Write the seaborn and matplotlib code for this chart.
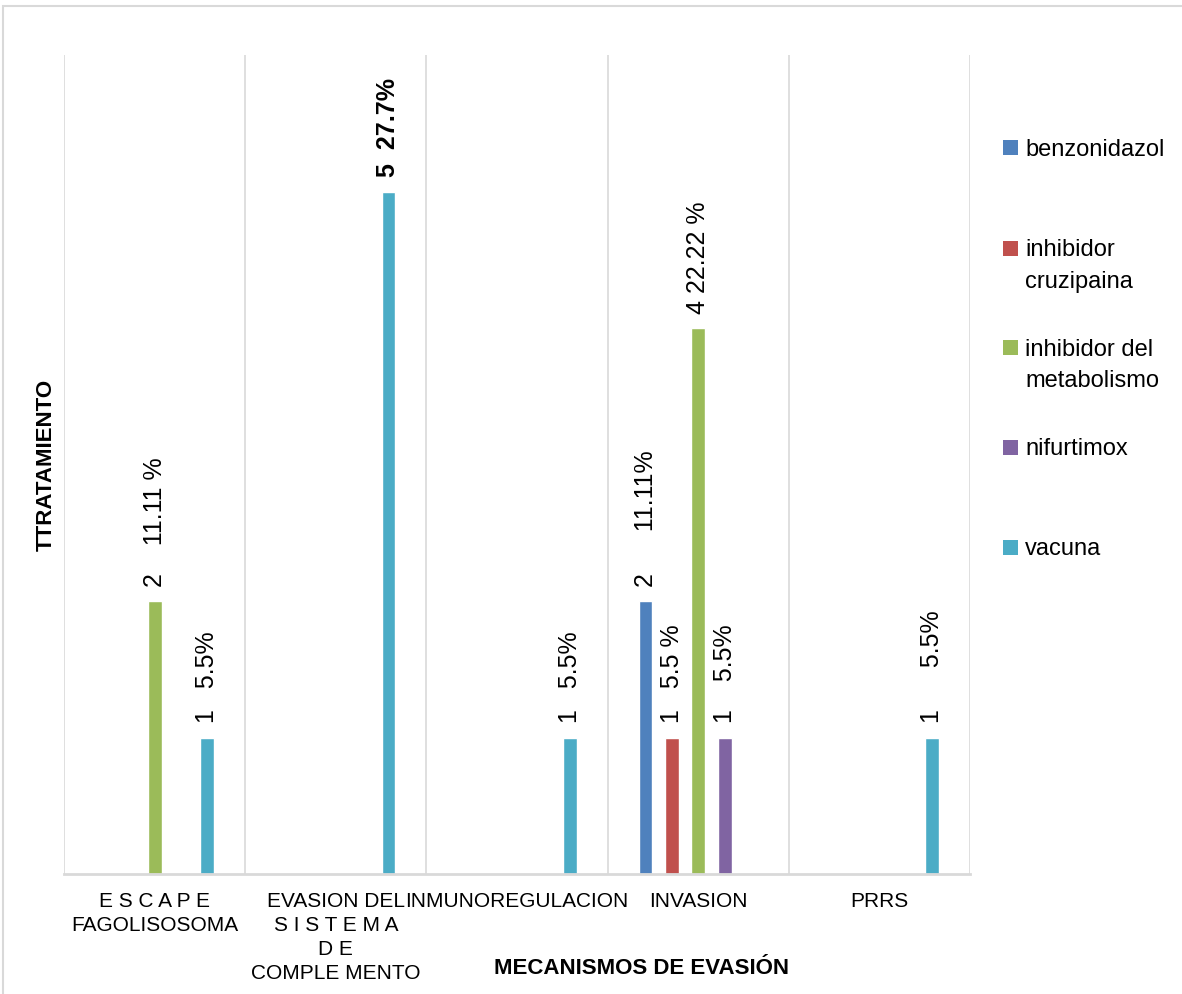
import matplotlib
matplotlib.use("Agg")
import matplotlib.pyplot as plt
from matplotlib.patches import Rectangle
import pandas as pd
import seaborn as sns

# --- data -------------------------------------------------------------
mecanismos = ["ESCAPE FAGOLISOSOMA", "EVASION DEL SISTEMA DE COMPLEMENTO",
              "INMUNOREGULACION", "INVASION", "PRRS"]
tick_labels = ["E S C A P E\nFAGOLISOSOMA",
               "EVASION DEL\nS I S T E M A\nD E\nCOMPLE MENTO",
               "INMUNOREGULACION", "INVASION", "PRRS"]
tratamientos = ["benzonidazol", "inhibidor cruzipaina", "inhibidor del metabolismo",
                "nifurtimox", "vacuna"]
legend_labels = ["benzonidazol", "inhibidor\ncruzipaina", "inhibidor del\nmetabolismo",
                 "nifurtimox", "vacuna"]

benzonidazol = [0, 0, 0, 2, 0]
inhibidor_cruzipaina = [0, 0, 0, 1, 0]
inhibidor_metabolismo = [2, 0, 0, 4, 0]
nifurtimox = [0, 0, 0, 1, 0]
vacuna = [1, 5, 1, 0, 1]

# percentage text shown next to each count
pct_benzonidazol = ["", "", "", "      11.11%", ""]
pct_inhibidor_cruzipaina = ["", "", "", "   5.5 %", ""]
pct_inhibidor_metabolismo = ["    11.11 %", "", "", " 22.22 %", ""]
pct_nifurtimox = ["", "", "", "    5.5%", ""]
pct_vacuna = ["   5.5%", "  27.7%", "   5.5%", "", "      5.5%"]

colores = ["#4F81BD", "#C0504D", "#9BBB59", "#8064A2", "#4BACC6"]

series = [benzonidazol, inhibidor_cruzipaina, inhibidor_metabolismo, nifurtimox, vacuna]
pcts = [pct_benzonidazol, pct_inhibidor_cruzipaina, pct_inhibidor_metabolismo,
        pct_nifurtimox, pct_vacuna]

rows = []
for trat, vals in zip(tratamientos, series):
    for mec, v in zip(mecanismos, vals):
        rows.append({"mecanismo": mec, "tratamiento": trat, "n": v})
df = pd.DataFrame(rows)

# --- figure -----------------------------------------------------------
sns.set_style("white")
plt.rcParams["font.family"] = ["Liberation Sans", "DejaVu Sans"]
plt.rcParams["text.color"] = "black"
plt.rcParams["axes.labelcolor"] = "black"
plt.rcParams["xtick.color"] = "black"

W, H = 1182, 995
fig = plt.figure(figsize=(W / 100, H / 100), dpi=100)
ax = fig.add_axes([64 / W, 1 - 875 / H, (970 - 64) / W, (875 - 56) / H])

sns.barplot(data=df, x="mecanismo", y="n", hue="tratamiento",
            order=mecanismos, hue_order=tratamientos, palette=colores,
            saturation=1, width=0.727, gap=0.47, legend=False, ax=ax)

ax.set_xlim(-0.5, len(mecanismos) - 0.5)
ax.set_ylim(0, 6)

# category separators
for b in range(len(mecanismos) + 1):
    ax.axvline(b - 0.5, color="#d9d9d9", lw=1.2, zorder=0)

for s in ["top", "right", "left"]:
    ax.spines[s].set_visible(False)
ax.spines["bottom"].set_color("#d9d9d9")
ax.spines["bottom"].set_linewidth(2)
ax.set_yticks([])
ax.set_xticks(range(len(mecanismos)))
ax.set_xticklabels(tick_labels, fontsize=15, linespacing=1.34, color="black")
ax.tick_params(axis="x", length=0, pad=12)

# value labels above bars
top = max(max(s) for s in series)
for ci, cont in enumerate(ax.containers):
    for bi, bar in enumerate(cont):
        v = series[ci][bi]
        if v == 0:
            continue
        txt = f"{v}{pcts[ci][bi]}"
        ax.annotate(txt, xy=(bar.get_x() + bar.get_width() / 2, bar.get_height()),
                    xytext=(0, 11), textcoords="offset points",
                    rotation=90, ha="center", va="bottom", fontsize=18,
                    color="black", fontweight="bold" if v == top else "normal")

ax.set_xlabel("MECANISMOS DE EVASIÓN", fontsize=16, fontweight="bold",
              family=["Liberation Sans Narrow", "Liberation Sans"])
ax.xaxis.set_label_coords((642 - 64) / 906, (875 - 958) / 819)
ax.set_ylabel("TTRATAMIENTO", fontsize=16, fontweight="bold",
              family=["Liberation Sans Narrow", "Liberation Sans"])
ax.yaxis.set_label_coords((57 - 64) / 906, (875 - 465) / 819)

# legend
centers = [148.5, 249, 348.5, 448.5, 548]
for lab, col, cy in zip(legend_labels, colores, centers):
    fig.add_artist(Rectangle((1003 / W, 1 - (cy + 7.5) / H), 15 / W, 15 / H,
                             transform=fig.transFigure, color=col, lw=0))
    fig.text(1025 / W, 1 - (cy - 10) / H, lab, fontsize=17, va="top", ha="left",
             linespacing=1.56)

# outer frame
fig.add_artist(Rectangle((3 / W, -0.05), 1.2, 1 - 7 / H + 0.05,
                         transform=fig.transFigure, fill=False,
                         edgecolor="#d9d9d9", lw=1.5))

fig.savefig("out.png", dpi=100)
